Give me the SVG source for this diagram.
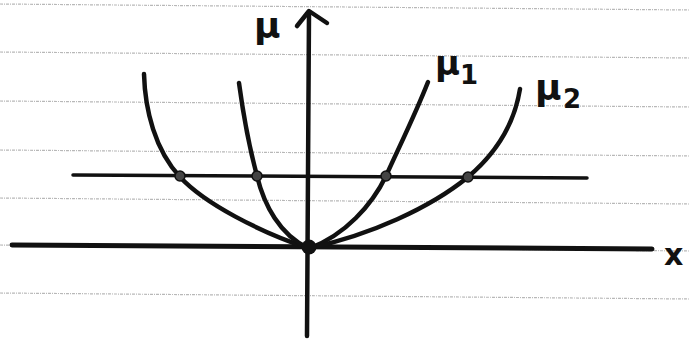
<svg xmlns="http://www.w3.org/2000/svg" width="690" height="339" viewBox="0 0 690 339">
<style>
.rule{stroke:#b8b8b8;stroke-width:1.2;stroke-dasharray:3 1 1 1;fill:none}
.ink{stroke:#111;fill:none;stroke-linecap:round;stroke-linejoin:round}
.lbl{font-family:"DejaVu Sans","Liberation Sans",sans-serif;font-weight:bold;fill:#111}
.pt{fill:#444;stroke:#111;stroke-width:1.5}
</style>
<rect width="690" height="339" fill="#fff"/>
<g id="paper">
<line class="rule" x1="0" y1="4" x2="690" y2="10"/>
<line class="rule" x1="0" y1="52" x2="690" y2="58"/>
<line class="rule" x1="0" y1="101" x2="690" y2="107"/>
<line class="rule" x1="0" y1="150" x2="690" y2="156"/>
<line class="rule" x1="0" y1="198" x2="690" y2="204"/>
<line class="rule" x1="0" y1="245" x2="690" y2="251"/>
<line class="rule" x1="0" y1="293" x2="690" y2="299"/>
</g>
<g id="axes">
<path class="ink" stroke-width="5" d="M12,245 L652,249"/>
<path class="ink" stroke-width="4.5" d="M309,12 L307,336"/>
<path class="ink" stroke-width="4.5" d="M297,26 L309,11 L327,23"/>
<path class="ink" stroke-width="3.5" d="M73,175 L587,178"/>
</g>
<g id="curves">
<path class="ink" stroke-width="4.5" d="M144,74 C145,110 155,150 180,177 S260,232 308,248"/>
<path class="ink" stroke-width="4.5" d="M239,83 C244,120 250,150 257,176 C264,205 280,235 308,248"/>
<path class="ink" stroke-width="4.5" d="M428,82 C415,115 400,145 386,176 C372,205 345,235 310,248"/>
<path class="ink" stroke-width="4.5" d="M520,89 C515,120 500,150 468,177 C430,208 370,235 310,248"/>
</g>
<g id="points">
<circle class="pt" cx="180" cy="176" r="5"/>
<circle class="pt" cx="257" cy="176" r="5"/>
<circle class="pt" cx="386" cy="176" r="5"/>
<circle class="pt" cx="468" cy="177" r="5"/>
<circle cx="309" cy="247" r="7.5" fill="#111"/>
</g>
<g id="labels">
<text class="lbl" x="254" y="38" font-size="36">μ</text>
<text class="lbl" x="435" y="75" font-size="34">μ</text>
<text class="lbl" x="460" y="84" font-size="26">1</text>
<text class="lbl" x="535" y="100" font-size="36">μ</text>
<text class="lbl" x="563" y="108" font-size="26">2</text>
<text class="lbl" x="664" y="265" font-size="30">x</text>
</g>
</svg>
